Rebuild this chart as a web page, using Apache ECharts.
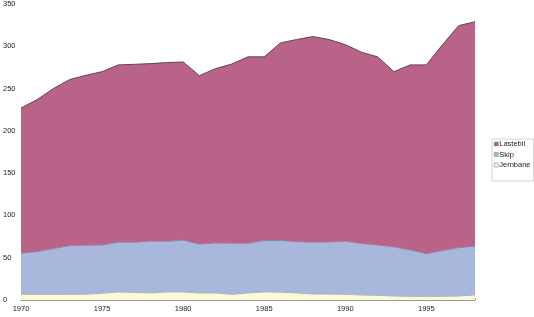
<!DOCTYPE html>
<html><head><meta charset="utf-8">
<script src="https://cdn.jsdelivr.net/npm/echarts@6/dist/echarts.min.js"></script>
<style>html,body{margin:0;padding:0;background:#fff}#c{width:534px;height:317px}</style>
</head><body><div id="c"></div>
<script>
const years = ['1970','1971','1972','1973','1974','1975','1976','1977','1978','1979','1980','1981','1982','1983','1984','1985','1986','1987','1988','1989','1990','1991','1992','1993','1994','1995','1996','1997','1998'];
const jernbane = [6.7,6.7,6.7,6.7,6.8,8.0,9.5,9.0,8.3,9.5,9.5,8.3,8.3,6.7,8.3,9.5,9.3,8.3,7.1,7.0,6.7,5.9,5.5,4.7,4.3,4.3,4.3,4.7,6.0];
const skip = [48.6,50.5,54.1,57.6,58.0,57.0,58.8,59.3,61.2,60.0,61.2,57.7,59.2,60.3,58.7,60.8,61.0,60.7,61.2,61.7,62.8,60.8,59.5,58.1,54.9,50.5,54.1,57.3,57.6];
const lastebil = [171.7,179.8,189.2,196.3,200.9,205.0,209.7,210.4,210.0,211.2,210.8,199.3,206.1,212.0,220.5,217.2,233.7,239.0,243.2,239.3,232.5,226.3,222.5,207.2,218.8,223.2,243.6,262.5,265.4];
const yTicks = [0,50,100,150,200,250,300,350];

const font = 'Liberation Sans, Arial, sans-serif';
const chart = echarts.init(document.getElementById('c'), null, {renderer:'canvas'});
function area(name, data, fill, line){
  return {name, type:'line', stack:'t', data, symbol:'none', smooth:false,
    lineStyle:{color:line, width:1}, itemStyle:{color:fill, borderColor:line},
    areaStyle:{color:fill, opacity:1}, emphasis:{disabled:true}};
}
chart.setOption({
  animation:false,
  backgroundColor:'#fff',
  grid:{left:18, right:59, top:4, bottom:17, containLabel:false},
  legend:{
    orient:'vertical', left:492, top:139, padding:[1,3,12,2],
    borderColor:'#d4d4d4', borderWidth:1,
    icon:'rect', itemWidth:4, itemHeight:4, itemGap:2.5,
    textStyle:{fontFamily:font, fontSize:7.5, color:'#222', padding:[0,0,0,-4]},
    data:['Lastebil','Skip','Jernbane'],
    itemStyle:{borderColor:'#777', borderWidth:0.5}
  },
  xAxis:{
    type:'category', data:years, boundaryGap:false,
    axisLine:{show:true, lineStyle:{color:'#999', width:1}},
    axisTick:{show:true, inside:true, length:2, interval:0, lineStyle:{color:'#999'}},
    axisLabel:{interval:4, fontFamily:font, fontSize:7.5, color:'#222', margin:5},
    splitLine:{show:false}
  },
  yAxis:{
    type:'value', min:yTicks[0], max:yTicks[yTicks.length-1], interval:50,
    axisLine:{show:false}, axisTick:{show:false}, splitLine:{show:false},
    axisLabel:{fontFamily:font, fontSize:7.5, color:'#222', align:'left', margin:18,
      formatter:v=>yTicks.includes(v)?String(v):''}
  },
  series:[
    area('Jernbane', jernbane, '#FCFAD6', '#B8B69A'),
    area('Skip', skip, '#A8B8DC', '#7D8DB2'),
    area('Lastebil', lastebil, '#B86387', '#7A3A5A')
  ]
});
</script></body></html>
